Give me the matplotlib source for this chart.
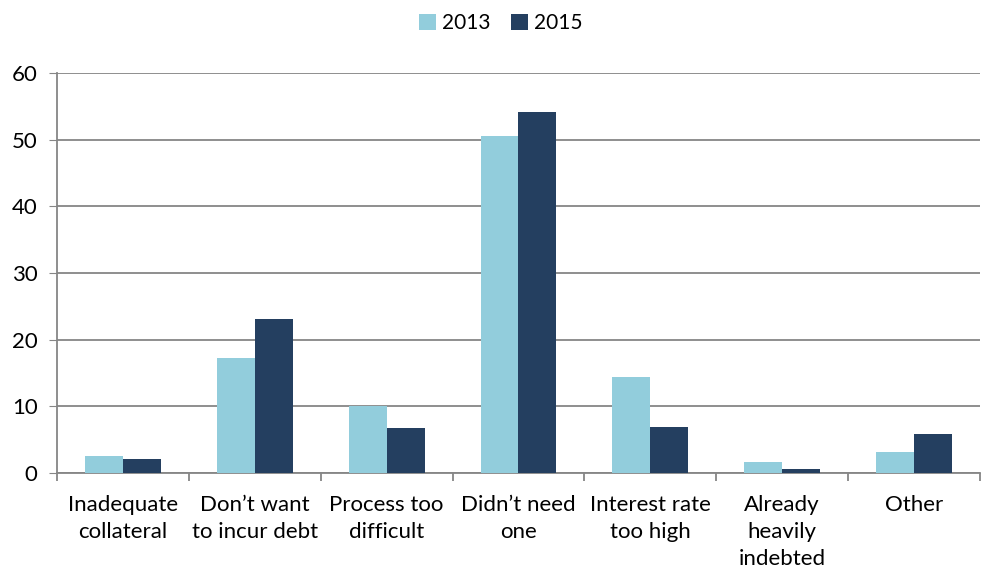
import matplotlib.pyplot as plt
import numpy as np

categories = ["Inadequate\ncollateral", "Don\u2019t want\nto incur debt", "Process too\ndifficult",
              "Didn\u2019t need\none", "Interest rate\ntoo high", "Already\nheavily\nindebted", "Other"]
y2013 = [2.6, 17.3, 10.1, 50.6, 14.4, 1.6, 3.1]
y2015 = [2.1, 23.1, 6.8, 54.2, 6.9, 0.6, 5.9]
yticks = [0, 10, 20, 30, 40, 50, 60]

plt.rcParams['font.family'] = ['Lato', 'DejaVu Sans']

fig = plt.figure(figsize=(9.82, 5.75), dpi=100)
ax = fig.add_axes([0.058, 0.1774, 0.94, 0.6956])

x = np.arange(len(categories))
w = 0.288
ax.bar(x - w / 2, y2013, w, color='#92CDDC', label='2013', zorder=3)
ax.bar(x + w / 2, y2015, w, color='#243F60', label='2015', zorder=3)

ax.set_xlim(-0.5, len(categories) - 0.5)
ax.set_ylim(0, 60)
ax.set_yticks(yticks)
ax.tick_params(axis='y', length=6, color='#868686', labelsize=16, pad=8)
ax.yaxis.grid(True, color='#868686', linewidth=1.3, zorder=0)

ax.set_xticks(x)
ax.set_xticklabels(categories, fontsize=16, linespacing=1.42)
ax.tick_params(axis='x', length=0, pad=16)
ax.set_xticks(np.arange(len(categories) + 1) - 0.5, minor=True)
ax.tick_params(axis='x', which='minor', length=6, color='#868686', width=1.3)

for s in ['top', 'right']:
    ax.spines[s].set_visible(False)
for s in ['left', 'bottom']:
    ax.spines[s].set_color('#868686')
    ax.spines[s].set_linewidth(1.3)

fig.legend(loc='upper center', bbox_to_anchor=(0.51, 1.01), ncol=2, frameon=False,
           fontsize=15, handlelength=0.8, handleheight=0.8, handletextpad=0.3,
           columnspacing=1.0)

fig.savefig('out.png', dpi=100)
